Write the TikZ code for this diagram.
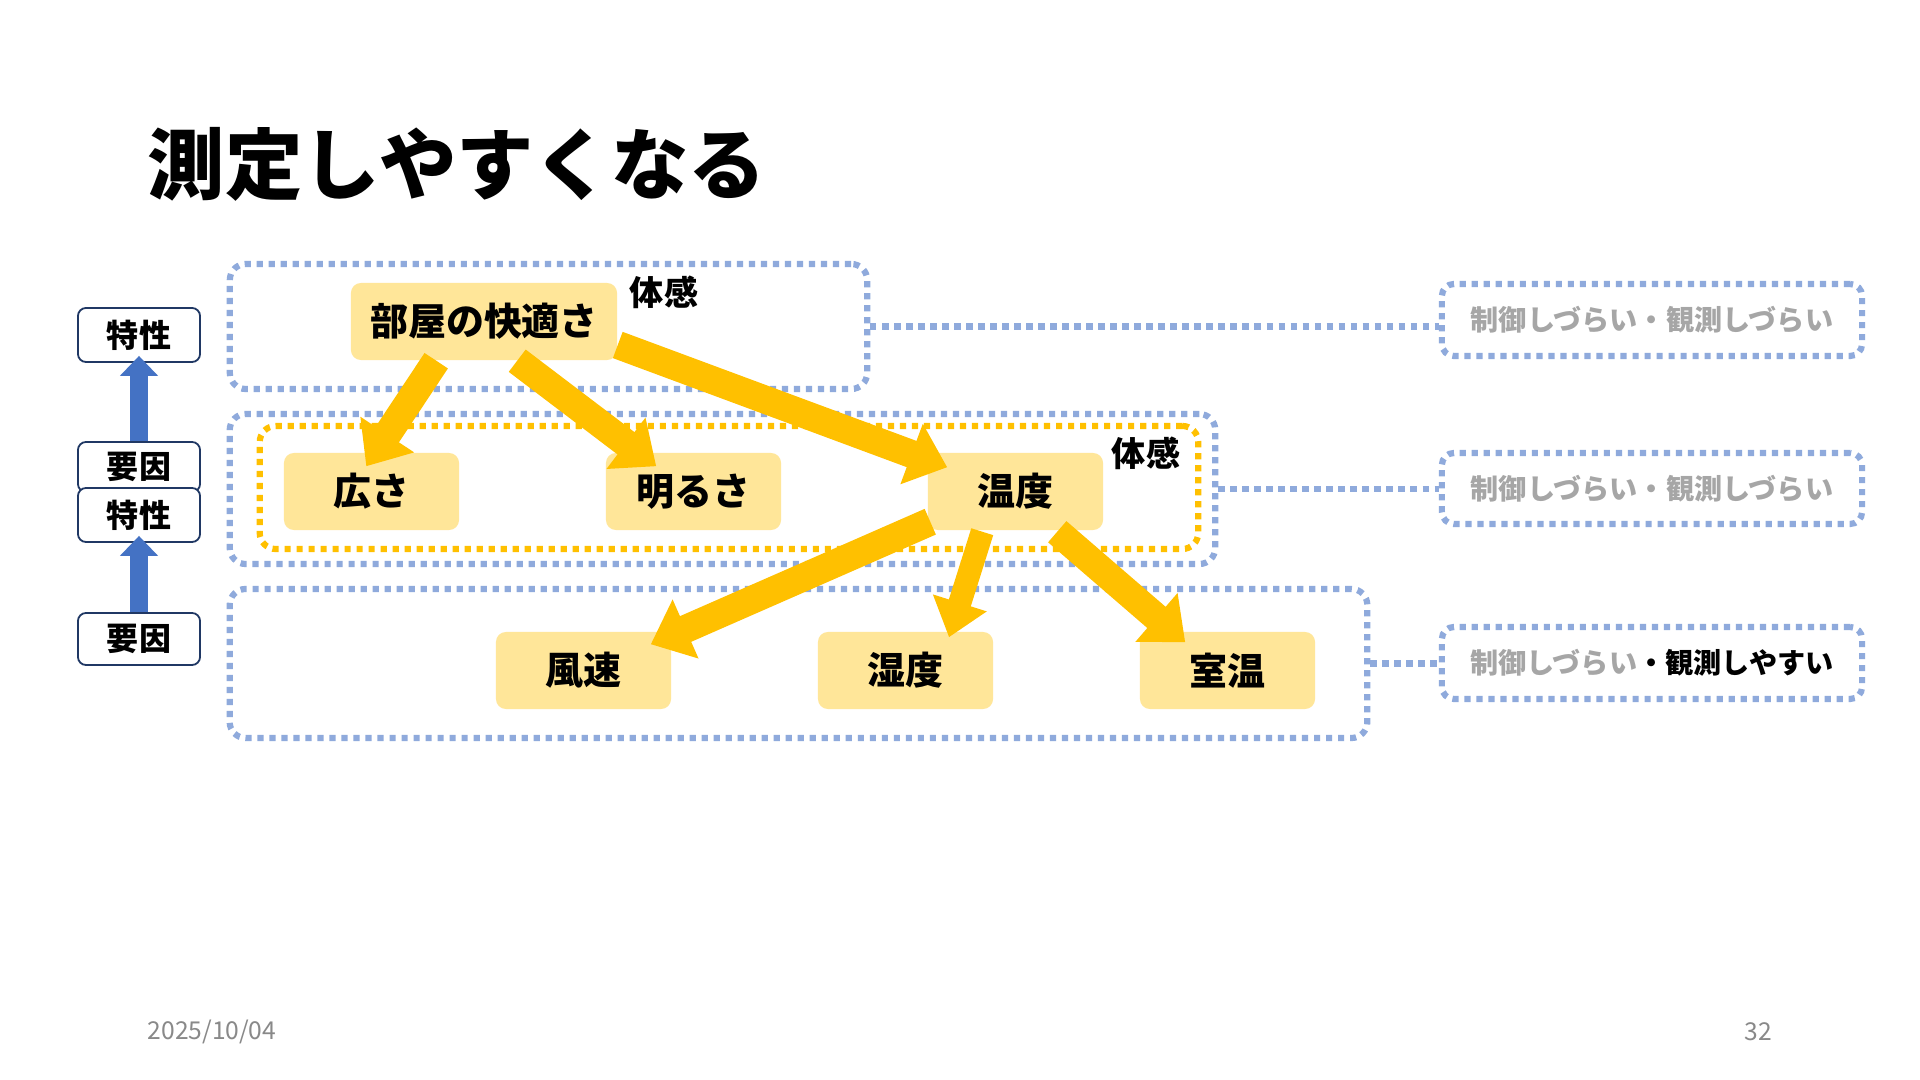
\documentclass[tikz,border=0pt]{standalone}
\usepackage{fontspec}
\setmainfont{Noto Sans CJK JP}
\usetikzlibrary{arrows.meta,calc}
\definecolor{dotblue}{HTML}{8FAADC}
\definecolor{gold}{HTML}{FFC000}
\definecolor{nodefill}{HTML}{FFE699}
\definecolor{navy}{HTML}{203864}
\definecolor{arrblue}{HTML}{4472C4}
\definecolor{graytxt}{HTML}{A6A6A6}
\definecolor{footgray}{HTML}{898989}
\tikzset{
  dotline/.style={line width=0.062cm, dash pattern=on 0.062cm off 0.058cm},
  groupbox/.style={draw=dotblue, dotline, rounded corners=0.16cm, inner sep=0pt},
  goldbox/.style={draw=gold, dotline, rounded corners=0.16cm, inner sep=0pt},
  connline/.style={draw=dotblue, dotline},
  rightbox/.style={draw=dotblue, dotline, rounded corners=0.12cm, inner sep=0pt,
    minimum width=4.2cm, font=\bfseries\fontsize{8pt}{9pt}\selectfont, text=graytxt},
  factor/.style={fill=nodefill, rounded corners=0.1cm, inner sep=0pt,
    minimum width=1.75cm, minimum height=0.77cm, font=\bfseries\fontsize{10.8pt}{12pt}\selectfont},
  feel/.style={inner sep=0pt, font=\bfseries\fontsize{9.7pt}{11pt}\selectfont},
  legend/.style={draw=navy, line width=0.018cm, fill=white, rounded corners=0.08cm, inner sep=0pt,
    minimum width=1.22cm, font=\bfseries\fontsize{9.1pt}{10pt}\selectfont},
  goldarrow/.style={draw=gold, line width=0.28cm, line cap=butt,
    -{Triangle[width=0.62cm,length=0.38cm]}},
  thinarrow/.style={draw=gold, line width=0.23cm, line cap=butt,
    -{Triangle[width=0.54cm,length=0.36cm]}},
  bluearrow/.style={draw=arrblue, line width=0.17cm, line cap=butt,
    -{Triangle[width=0.37cm,length=0.20cm]}},
  foot/.style={inner sep=0pt, text=footgray, font=\fontsize{7pt}{8pt}\selectfont}
}
\begin{document}
\begin{tikzpicture}[x=0.01cm, y=-0.01cm]
\fill[white] (0,0) rectangle (1920,1080);
\useasboundingbox (0,0) rectangle (1920,1080);

% title
\node[anchor=west, inner sep=0pt, font=\bfseries\fontsize{22pt}{24pt}\selectfont] (title) at (147,164) {測定しやすくなる};

% group boxes
\node[groupbox, minimum width=6.37cm, minimum height=1.25cm] (g1) at (548.5,326.5) {};
\node[groupbox, minimum width=9.85cm, minimum height=1.50cm] (g2) at (722.5,489) {};
\node[goldbox, minimum width=9.38cm, minimum height=1.23cm] (og) at (729,487.5) {};
\node[groupbox, minimum width=11.37cm, minimum height=1.49cm] (g3) at (798.5,663.5) {};

% right boxes
\node[rightbox, minimum height=0.72cm] (r1) at (1652,320) {制御しづらい・観測しづらい};
\node[rightbox, minimum height=0.71cm] (r2) at (1652,488.5) {制御しづらい・観測しづらい};
\node[rightbox, minimum height=0.72cm] (r3) at (1652,663) {制御しづらい\textcolor{black}{・観測しやすい}};

% connectors
\draw[connline] (g1.east) -- (g1.east -| r1.west);
\draw[connline] (g2.east) -- (g2.east -| r2.west);
\draw[connline] (g3.east) -- (g3.east -| r3.west);

% factor nodes
\node[factor, minimum width=2.66cm] (room) at (484,321.5) {部屋の快適さ};
\node[factor] (hiro) at (371.5,491.5) {広さ};
\node[factor] (akaru) at (693.5,491.5) {明るさ};
\node[factor] (ondo) at (1015.5,491.5) {温度};
\node[factor] (fuu) at (583.5,670.5) {風速};
\node[factor] (shitsu) at (905.5,670.5) {湿度};
\node[factor] (shitsuon) at (1227.5,670.5) {室温};

\node[feel] (feel1) at (664,292) {体感};
\node[feel] (feel2) at (1146,453) {体感};

% arrow end points
\coordinate (a1s) at ($(room.south west)+(86,0)$);
\coordinate (a1t) at ($(hiro.north west)+(83,14)$);
\coordinate (a2s) at ($(room.south west)+(167,0)$);
\coordinate (a2t) at ($(akaru.north west)+(51,14)$);
\coordinate (a3s) at ($(room.east)+(0,23.5)$);
\coordinate (a3t) at ($(ondo.north west)+(20,15)$);
\coordinate (a4s) at ($(ondo.south west)+(3,-9)$);
\coordinate (a4t) at ($(fuu.north east)+(-21,13)$);
\coordinate (a5s) at ($(ondo.south west)+(55,1)$);
\coordinate (a5t) at ($(shitsu.north)+(43.5,6)$);
\coordinate (a6s) at ($(ondo.south west)+(130,1)$);
\coordinate (a6t) at ($(shitsuon.north west)+(46,11)$);

\draw[goldarrow] (a1s) -- (a1t);
\draw[goldarrow] (a2s) -- (a2t);
\draw[goldarrow] (a3s) -- (a3t);
\draw[goldarrow] (a4s) -- (a4t);
\draw[thinarrow] (a5s) -- (a5t);
\draw[goldarrow] (a6s) -- (a6t);

% legend column
\node[legend, minimum height=0.54cm] (tok1) at (139,335) {特性};
\node[legend, minimum height=0.50cm] (yoin1) at (139,467) {要因};
\node[legend, minimum height=0.54cm] (tok2) at (139,515) {特性};
\node[legend, minimum height=0.52cm] (yoin2) at (139,639) {要因};
\draw[bluearrow] (yoin1.north) -- ($(tok1.south)+(0,-7)$);
\draw[bluearrow] (yoin2.north) -- ($(tok2.south)+(0,-7)$);

% footer
\node[foot, anchor=west] (date) at (147,1032) {2025/10/04};
\node[foot, anchor=east] (page) at (1773,1032) {32};
\end{tikzpicture}
\end{document}
